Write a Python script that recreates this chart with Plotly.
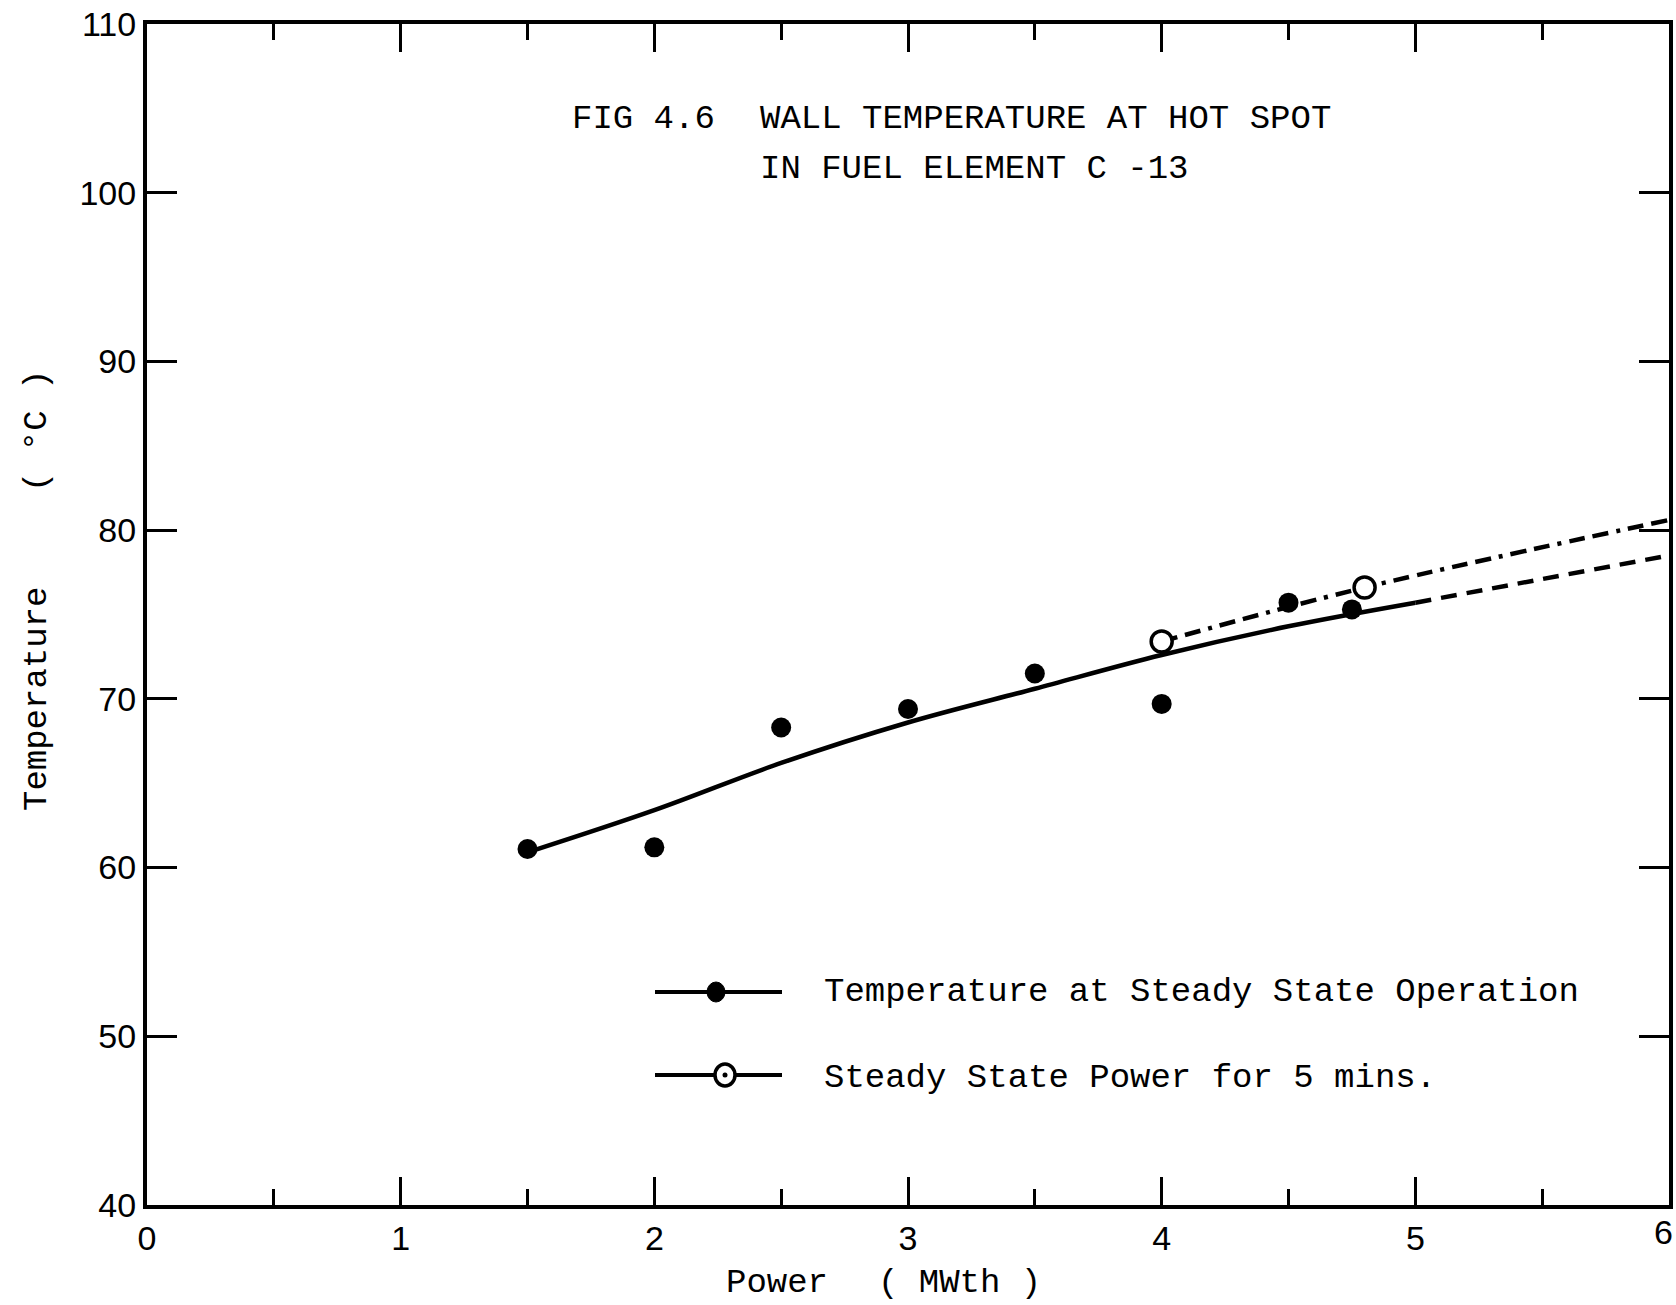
import plotly.graph_objects as go

# Measured wall temperature at the hot spot, fuel element C-13
power_steady = [1.5, 2.0, 2.5, 3.0, 3.5, 4.0, 4.5, 4.75]
temp_steady = [61.1, 61.2, 68.3, 69.4, 71.5, 69.7, 75.7, 75.3]

power_5min = [4.0, 4.8]
temp_5min = [73.4, 76.6]

# Smoothed steady-state curve and its extrapolation
fit_power = [1.5, 2.0, 2.5, 3.0, 3.5, 4.0, 4.5, 5.0]
fit_temp = [60.9, 63.4, 66.2, 68.6, 70.6, 72.6, 74.3, 75.7]
ext_power = [5.0, 5.5, 6.0]
ext_temp = [75.7, 77.1, 78.5]

# Trend through the 5-minute runs, extended to 6 MWth
trend_power = [4.0, 4.8, 6.0]
trend_temp = [73.4, 76.6, 80.6]

x_ticks = [0, 1, 2, 3, 4, 5, 6]
x_labels = ["0", "1", "2", "3", "4", "5", ""]  # "6" sits flush with the page edge
y_ticks = [40, 50, 60, 70, 80, 90, 100, 110]

MONO = "Liberation Mono, Courier New, monospace"
SANS = "Liberation Sans, Arial, sans-serif"
INK = "#000000"

W, H = 1676, 1305
ML, MR, MT, MB = 147, 7, 24, 100
PW, PH = W - ML - MR, H - MT - MB


def px(x):
    return (x - ML) / PW


def py(y):
    return (H - MB - y) / PH


fig = go.Figure()

fig.add_trace(go.Scatter(
    x=fit_power, y=fit_temp, mode="lines", line_shape="spline",
    line=dict(color=INK, width=4.5), hoverinfo="skip", showlegend=False))
fig.add_trace(go.Scatter(
    x=ext_power, y=ext_temp, mode="lines", line_shape="spline",
    line=dict(color=INK, width=4.5, dash="16px,10px"), hoverinfo="skip",
    showlegend=False))
fig.add_trace(go.Scatter(
    x=trend_power, y=trend_temp, mode="lines", line_shape="spline",
    line=dict(color=INK, width=4.5, dash="16px,8px,16px,8px,4px,8px"),
    hoverinfo="skip", showlegend=False))
fig.add_trace(go.Scatter(
    x=power_steady, y=temp_steady, mode="markers",
    marker=dict(symbol="circle", size=20, color=INK),
    showlegend=False))
fig.add_trace(go.Scatter(
    x=power_5min, y=temp_5min, mode="markers",
    marker=dict(symbol="circle", size=21, color="white",
                line=dict(color=INK, width=3.5)),
    showlegend=False))

axis_common = dict(
    showline=True, linecolor=INK, linewidth=4, mirror="ticks",
    ticks="inside", tickcolor=INK, tickwidth=3,
    showgrid=False, zeroline=False, automargin=False,
    tickfont=dict(family=SANS, size=34, color=INK),
)

fig.update_xaxes(
    range=[0, 6], tickvals=x_ticks, ticktext=x_labels, ticklen=28,
    minor=dict(dtick=0.5, ticks="inside", ticklen=16, tickwidth=3,
               tickcolor=INK, showgrid=False),
    **axis_common)
fig.update_yaxes(range=[40, 110], tickvals=y_ticks, ticklen=30,
                 **axis_common)

annotations = []


def text(x, y, s, size=34, family=MONO, angle=0, xanchor="left"):
    annotations.append(dict(
        x=px(x), y=py(y), xref="paper", yref="paper", text=s,
        showarrow=False, xanchor=xanchor, yanchor="middle",
        textangle=angle, font=dict(family=family, size=size, color=INK)))


# Last x tick label, kept inside the page
text(W - 1, 1232, "6", family=SANS, xanchor="right")

# Title block
text(570, 119, "FIG 4.6")
text(758, 119, "WALL TEMPERATURE AT HOT SPOT")
text(758, 169, "IN FUEL ELEMENT C -13")

# Axis titles
text(724, 1283, "Power")
text(876, 1283, "( MWth )")
text(37, 699, "Temperature", angle=-90, xanchor="center")
text(37, 431, "( °C )", angle=-90, xanchor="center")

# Key
text(822, 992, "Temperature at Steady State Operation")
text(822, 1078, "Steady State Power for 5 mins.")

shapes = []
for yk in (992, 1075):
    shapes.append(dict(type="line", xref="paper", yref="paper",
                       x0=px(655), x1=px(782), y0=py(yk), y1=py(yk),
                       line=dict(color=INK, width=4)))
shapes.append(dict(type="circle", xref="paper", yref="paper",
                   xsizemode="pixel", ysizemode="pixel",
                   xanchor=px(716), yanchor=py(992),
                   x0=-9, x1=9, y0=-10, y1=10,
                   fillcolor=INK, line=dict(color=INK, width=1)))
shapes.append(dict(type="circle", xref="paper", yref="paper",
                   xsizemode="pixel", ysizemode="pixel",
                   xanchor=px(725), yanchor=py(1075),
                   x0=-10, x1=10, y0=-11, y1=11,
                   fillcolor="white", line=dict(color=INK, width=3.5)))
shapes.append(dict(type="circle", xref="paper", yref="paper",
                   xsizemode="pixel", ysizemode="pixel",
                   xanchor=px(725), yanchor=py(1075),
                   x0=-2.5, x1=2.5, y0=-2.5, y1=2.5,
                   fillcolor=INK, line=dict(color=INK, width=0)))

fig.update_layout(
    width=W, height=H,
    margin=dict(l=ML, r=MR, t=MT, b=MB, pad=0, autoexpand=False),
    paper_bgcolor="white", plot_bgcolor="white",
    showlegend=False,
    annotations=annotations, shapes=shapes,
)

fig.write_html("out.html")
